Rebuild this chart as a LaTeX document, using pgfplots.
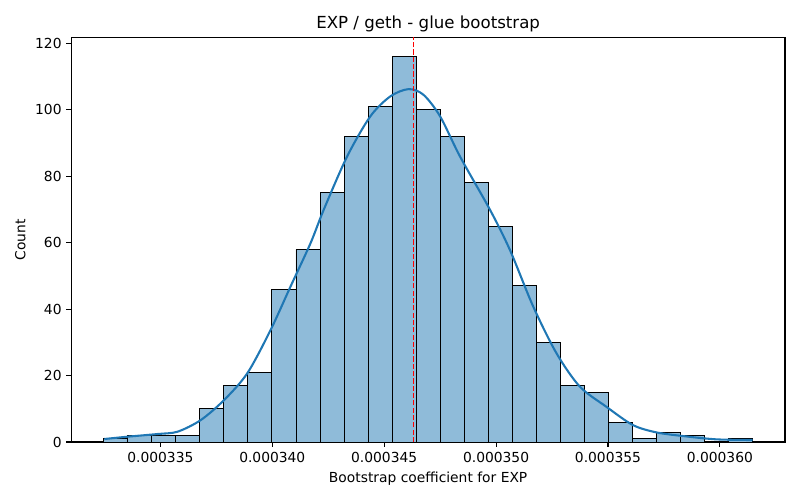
\documentclass[border=0pt]{standalone}
\usepackage{pgfplots}
\pgfplotsset{compat=1.18}
\usepackage{fontspec}
\setmainfont{DejaVu Sans}
\definecolor{barblue}{RGB}{143,187,217}
\definecolor{tabblue}{RGB}{31,119,180}
\definecolor{vred}{RGB}{255,0,0}
\def\vx{0.00034631}
\begin{document}
\begin{tikzpicture}
\begin{axis}[
 scale only axis, width=7.137in, height=4.047in,
 xmin=0.00033102, xmax=0.00036291, ymin=0, ymax=121.8,
 xtick={0.000335,0.00034,0.000345,0.00035,0.000355,0.00036},
 xticklabels={0.000335,0.000340,0.000345,0.000350,0.000355,0.000360},
 ytick={0,20,40,60,80,100,120},
 yticklabels={0,20,40,60,80,100,120},
 /pgf/number format/assume math mode=true,
 scaled x ticks=false,
 tick align=outside, tick pos=left, major tick length=3.5pt,
 axis line style={line width=0.8pt},
 every tick/.style={black, line width=0.8pt},
 tick label style={font=\fontsize{10}{12}\selectfont},
 title={EXP / geth - glue bootstrap},
 title style={font=\fontsize{12}{14}\selectfont, yshift=-5.5pt},
 xlabel={Bootstrap coefficient for EXP},
 ylabel={Count},
 label style={font=\fontsize{10}{12}\selectfont},
]
\coordinate (O) at (rel axis cs:0,0);
\coordinate (T) at (rel axis cs:1,1);
\addplot[ybar interval, fill=barblue, draw=black, line width=0.7pt] coordinates {
(0.0003324695,1) (0.0003335433,2) (0.0003346171,2) (0.0003356908,2)
(0.0003367646,10) (0.0003378384,17) (0.0003389122,21) (0.0003399860,46)
(0.0003410597,58) (0.0003421335,75) (0.0003432073,92) (0.0003442811,101)
(0.0003453549,116) (0.0003464286,100) (0.0003475024,92) (0.0003485762,78)
(0.0003496500,65) (0.0003507238,47) (0.0003517975,30) (0.0003528713,17)
(0.0003539451,15) (0.0003550189,6) (0.0003560927,1) (0.0003571664,3)
(0.0003582402,2) (0.0003593140,0) (0.0003603878,1) (0.0003614616,0)
};
\addplot[tabblue, line width=1.5pt, smooth, mark=none] coordinates {
(0.000332496,0.9) (0.000333538,1.6) (0.000334875,2.4) (0.000335767,3.1)
(0.000336805,6.6) (0.000337843,12.6) (0.000338886,20.7) (0.000339924,33.7)
(0.000340816,46.8) (0.000341707,59.8) (0.000342299,69.9) (0.000343342,85.9)
(0.000344381,98.0) (0.000345272,104.0) (0.000346087,106.2) (0.000346756,104.5)
(0.000347500,98.0) (0.000348391,85.9) (0.000349728,69.9) (0.000350619,57.8)
(0.000351658,40.8) (0.000352700,26.7) (0.000353739,16.7) (0.000354929,10.6)
(0.000356114,5.1) (0.000357157,2.9) (0.000358342,1.8) (0.000359831,0.8)
(0.000361462,0.6)
};
\addplot[vred, line width=1.1pt, line cap=butt, mark=none, unbounded coords=jump] coordinates {
(\vx,0)(\vx,1.55)(\vx,nan) (\vx,2.2)(\vx,3.75)(\vx,nan) (\vx,4.4)(\vx,5.95)(\vx,nan)
(\vx,6.6)(\vx,8.15)(\vx,nan) (\vx,8.8)(\vx,10.35)(\vx,nan) (\vx,11)(\vx,12.55)(\vx,nan)
(\vx,13.2)(\vx,14.75)(\vx,nan) (\vx,15.4)(\vx,16.95)(\vx,nan) (\vx,17.6)(\vx,19.15)(\vx,nan)
(\vx,19.8)(\vx,21.35)(\vx,nan) (\vx,22)(\vx,23.55)(\vx,nan) (\vx,24.2)(\vx,25.75)(\vx,nan)
(\vx,26.4)(\vx,27.95)(\vx,nan) (\vx,28.6)(\vx,30.15)(\vx,nan) (\vx,30.8)(\vx,32.35)(\vx,nan)
(\vx,33)(\vx,34.55)(\vx,nan) (\vx,35.2)(\vx,36.75)(\vx,nan) (\vx,37.4)(\vx,38.95)(\vx,nan)
(\vx,39.6)(\vx,41.15)(\vx,nan) (\vx,41.8)(\vx,43.35)(\vx,nan) (\vx,44)(\vx,45.55)(\vx,nan)
(\vx,46.2)(\vx,47.75)(\vx,nan) (\vx,48.4)(\vx,49.95)(\vx,nan) (\vx,50.6)(\vx,52.15)(\vx,nan)
(\vx,52.8)(\vx,54.35)(\vx,nan) (\vx,55)(\vx,56.55)(\vx,nan) (\vx,57.2)(\vx,58.75)(\vx,nan)
(\vx,59.4)(\vx,60.95)(\vx,nan) (\vx,61.6)(\vx,63.15)(\vx,nan) (\vx,63.8)(\vx,65.35)(\vx,nan)
(\vx,66)(\vx,67.55)(\vx,nan) (\vx,68.2)(\vx,69.75)(\vx,nan) (\vx,70.4)(\vx,71.95)(\vx,nan)
(\vx,72.6)(\vx,74.15)(\vx,nan) (\vx,74.8)(\vx,76.35)(\vx,nan) (\vx,77)(\vx,78.55)(\vx,nan)
(\vx,79.2)(\vx,80.75)(\vx,nan) (\vx,81.4)(\vx,82.95)(\vx,nan) (\vx,83.6)(\vx,85.15)(\vx,nan)
(\vx,85.8)(\vx,87.35)(\vx,nan) (\vx,88)(\vx,89.55)(\vx,nan) (\vx,90.2)(\vx,91.75)(\vx,nan)
(\vx,92.4)(\vx,93.95)(\vx,nan) (\vx,94.6)(\vx,96.15)(\vx,nan) (\vx,96.8)(\vx,98.35)(\vx,nan)
(\vx,99)(\vx,100.55)(\vx,nan) (\vx,101.2)(\vx,102.75)(\vx,nan) (\vx,103.4)(\vx,104.95)(\vx,nan)
(\vx,105.6)(\vx,107.15)(\vx,nan) (\vx,107.8)(\vx,109.35)(\vx,nan) (\vx,110)(\vx,111.55)(\vx,nan)
(\vx,112.2)(\vx,113.75)(\vx,nan) (\vx,114.4)(\vx,115.95)(\vx,nan) (\vx,116.6)(\vx,118.15)(\vx,nan)
(\vx,118.8)(\vx,120.35)(\vx,nan) (\vx,121)(\vx,121.8)
};
\end{axis}
\pgfresetboundingbox
\path[use as bounding box] ([shift={(-0.713in,-0.58in)}]O) rectangle ([shift={(0.15in,0.373in)}]T);
\end{tikzpicture}
\end{document}
